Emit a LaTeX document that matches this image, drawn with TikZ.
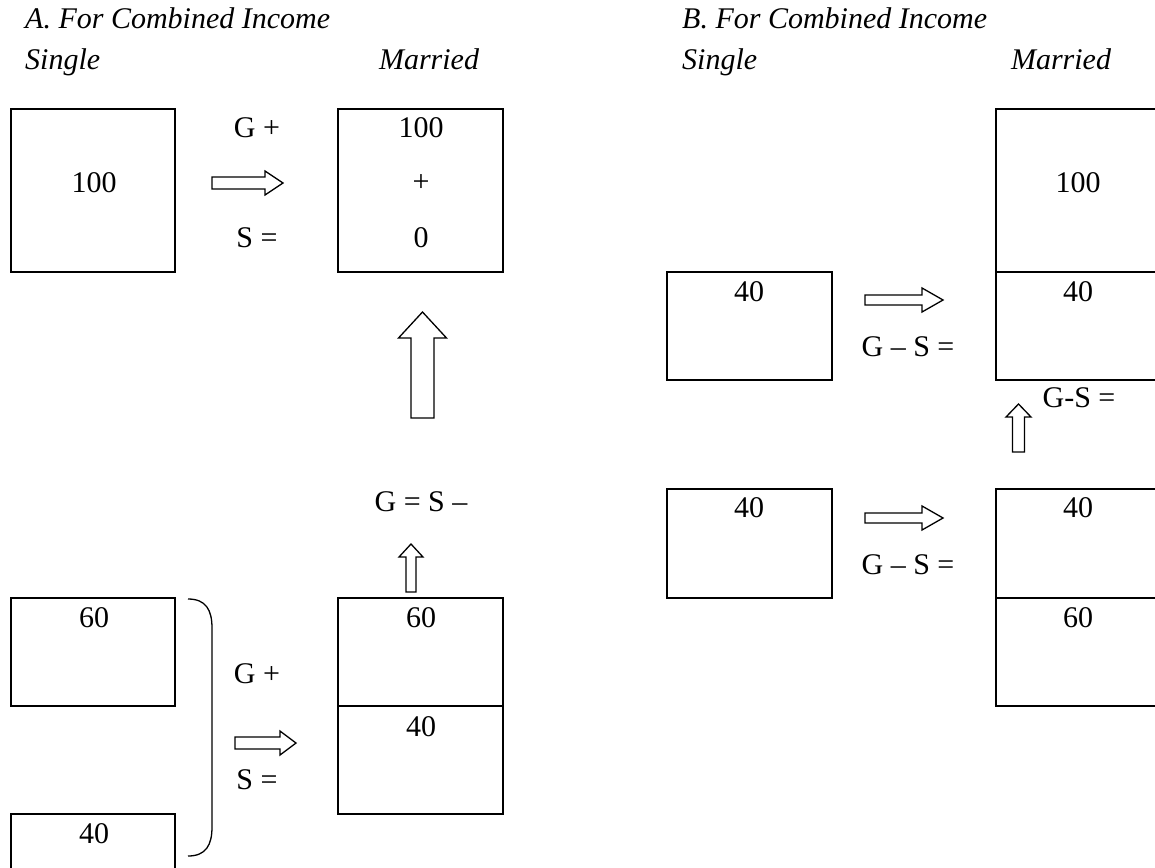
\documentclass[tikz,border=0pt]{standalone}
\usepackage{fontspec}
\setmainfont{Liberation Serif}
\tikzset{
  lbl/.style={inner sep=0pt, font=\fontsize{30}{36}\selectfont},
  ttl/.style={inner sep=0pt, font=\fontsize{30}{36}\selectfont\itshape, anchor=base west},
  hdr/.style={inner sep=0pt, font=\fontsize{30}{36}\selectfont\itshape, anchor=base},
  boxline/.style={draw=black, line width=1.3pt},
  blockarrow/.style={draw=black, line width=1.3pt, fill=white, line join=miter},
}
% right block arrow: x-start, x-tip, y, body half, head half, head base x
\newcommand\rblock[6]{%
  \draw[blockarrow] (#1,#3-#4) -- (#6,#3-#4) -- (#6,#3-#5) -- (#2,#3)
    -- (#6,#3+#5) -- (#6,#3+#4) -- (#1,#3+#4) -- cycle;}
% up block arrow: x, y-bottom, y-tip, body half, head half, head base y
\newcommand\ublock[6]{%
  \draw[blockarrow] (#1-#4,#2) -- (#1-#4,#6) -- (#1-#5,#6) -- (#1,#3)
    -- (#1+#5,#6) -- (#1+#4,#6) -- (#1+#4,#2) -- cycle;}
\begin{document}
\begin{tikzpicture}[x=1pt,y=-1pt]
\useasboundingbox (0,0) rectangle (1155,867);
\clip (0,0) rectangle (1155,867);
\fill[white] (0,0) rectangle (1155,867);

% ---------- Part A ----------
\node[ttl] (tA) at (25,29) {A. For Combined Income};
\node[ttl] (sA) at (25,70) {Single};
\node[hdr] (mA) at (429,70) {Married};

% top row
\draw[boxline] (11,109) rectangle (175,272);
\node[lbl] (a100) at (94,183) {100};
\node[lbl] (aG1) at (257,128) {G +};
\node[lbl] (aS1) at (257,238) {S =};
\rblock{212}{283}{183}{6}{12}{265}
\draw[boxline] (338,109) rectangle (503,272);
\node[lbl] (m100) at (421,128) {100};
\node[lbl] (mplus) at (421,183) {+};
\node[lbl] (mzero) at (421,238) {0};

% big up arrow
\ublock{422.5}{418}{312}{11.5}{24}{338}

% G = S -
\node[lbl] (aGS) at (421,502) {G = S \textendash};
\ublock{411}{592}{544}{5}{12}{557}

% bottom row
\draw[boxline] (11,598) rectangle (175,706);
\node[lbl] (a60) at (94,618) {60};
\draw[boxline] (11,880) -- (11,814) -- (175,814) -- (175,880);
\node[lbl] (a40) at (94,834) {40};
\draw[boxline] (188,599) .. controls (206,599) and (212,610) .. (212,628)
  -- (212,827) .. controls (212,845) and (206,856) .. (188,856);
\node[lbl] (aG2) at (257,674) {G +};
\node[lbl] (aS2) at (257,780) {S =};
\rblock{235}{296}{743}{6}{12}{280}
\draw[boxline] (338,598) rectangle (503,814);
\draw[boxline] (338,706) -- (503,706);
\node[lbl] (m60) at (421,618) {60};
\node[lbl] (m40) at (421,727) {40};

% ---------- Part B ----------
\node[ttl] (tB) at (682,29) {B. For Combined Income};
\node[ttl] (sB) at (682,70) {Single};
\node[hdr] (mB) at (1061,70) {Married};

% married upper stack
\draw[boxline] (1170,109) -- (996,109) -- (996,380) -- (1170,380);
\draw[boxline] (996,272) -- (1170,272);
\node[lbl] (b100) at (1078,183) {100};
\node[lbl] (b40a) at (1078,292) {40};

% single 40 (upper)
\draw[boxline] (667,272) rectangle (832,380);
\node[lbl] (s40a) at (749,292) {40};
\rblock{865}{943}{300}{5}{12}{922}
\node[lbl] (bGS1) at (908,347) {G \textendash\ S =};

% G-S = and small up arrow
\node[lbl] (bGS2) at (1079,398) {G-S =};
\ublock{1018.5}{452}{404}{6}{12.5}{417}

% single 40 (lower)
\draw[boxline] (667,489) rectangle (832,598);
\node[lbl] (s40b) at (749,508) {40};
\rblock{865}{943}{518}{5}{12}{922}
\node[lbl] (bGS3) at (908,565) {G \textendash\ S =};

% married lower stack
\draw[boxline] (1170,489) -- (996,489) -- (996,706) -- (1170,706);
\draw[boxline] (996,598) -- (1170,598);
\node[lbl] (b40b) at (1078,508) {40};
\node[lbl] (b60) at (1078,618) {60};
\end{tikzpicture}
\end{document}
